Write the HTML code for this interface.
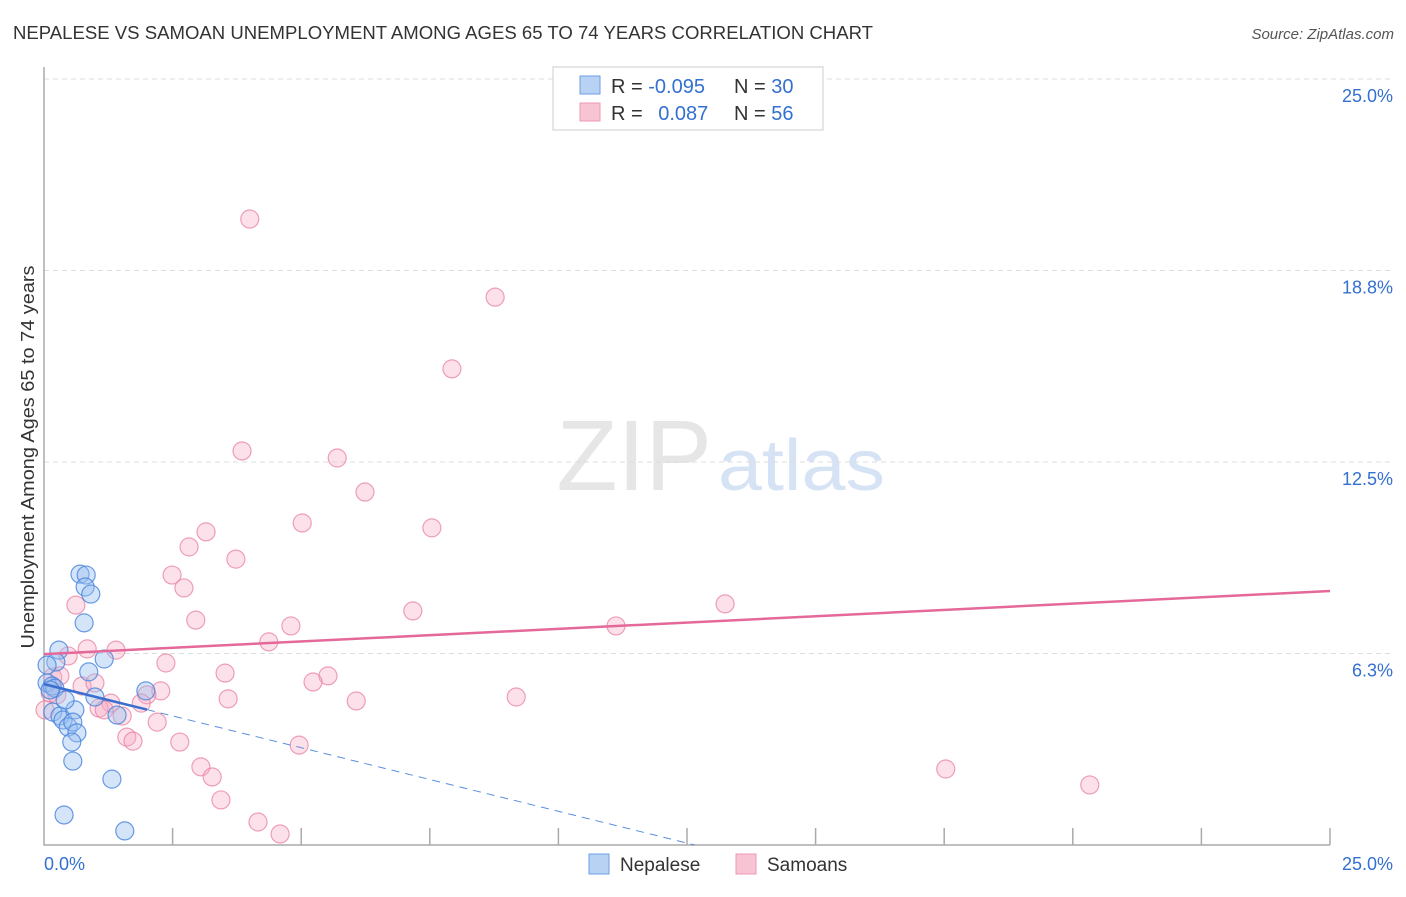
<!DOCTYPE html>
<html><head><meta charset="utf-8"><style>
body{margin:0;background:#fff;font-family:"Liberation Sans",sans-serif;}
svg text{font-family:"Liberation Sans",sans-serif;}
</style></head><body>
<svg id="chart" width="1406" height="892" xmlns="http://www.w3.org/2000/svg">
<text x="13" y="39" font-size="18" fill="#333" textLength="860" lengthAdjust="spacingAndGlyphs">NEPALESE VS SAMOAN UNEMPLOYMENT AMONG AGES 65 TO 74 YEARS CORRELATION CHART</text>
<text x="1394" y="39" font-size="15" fill="#555" text-anchor="end" font-style="italic">Source: ZipAtlas.com</text>
<text x="712" y="490" font-size="100" text-anchor="end" fill="#e6e6e6" font-family="Liberation Serif">ZIP</text>
<text x="718" y="490" font-size="72" fill="#d6e3f5" textLength="167" lengthAdjust="spacingAndGlyphs">atlas</text>
<text transform="translate(34,457) rotate(-90)" font-size="18" fill="#333" text-anchor="middle" textLength="383" lengthAdjust="spacingAndGlyphs">Unemployment Among Ages 65 to 74 years</text>
<g id="grid"></g><g id="axes"></g><g id="marks"></g>
<g>
<rect x="553" y="67" width="270" height="63" fill="#fff" stroke="#ccc"/>
<rect x="580" y="76" width="20" height="18" fill="#b8d2f4" stroke="#6b9ee3"/>
<rect x="580" y="103" width="20" height="18" fill="#f8c4d3" stroke="#eb9ab3"/>
<text x="611" y="93" font-size="20" fill="#333">R = <tspan fill="#3370d0">-0.095</tspan></text>
<text x="734" y="93" font-size="20" fill="#333">N = <tspan fill="#3370d0">30</tspan></text>
<text x="611" y="120" font-size="20" fill="#333">R = <tspan fill="#3370d0" dx="10">0.087</tspan></text>
<text x="734" y="120" font-size="20" fill="#333">N = <tspan fill="#3370d0">56</tspan></text>
</g>
<g>
<rect x="589" y="854" width="20" height="20" fill="#b8d2f4" stroke="#6b9ee3"/>
<text x="620" y="871" font-size="19" fill="#333">Nepalese</text>
<rect x="736" y="854" width="20" height="20" fill="#f8c4d3" stroke="#eb9ab3"/>
<text x="767" y="871" font-size="19" fill="#333">Samoans</text>
</g>
</svg>
<script>
const yTicks=[6.25,12.5,18.75,25];
const yTickLabels=["6.3%","12.5%","18.8%","25.0%"];
const xEndLabels=["0.0%","25.0%"];
const nepX=[0.70,0.82,0.80,0.91,0.78,0.29,0.23,1.17,0.87,0.06,0.16,0.21,0.99,1.98,0.17,0.31,0.37,0.60,0.47,0.56,0.64,0.54,0.56,1.42,1.32,0.39,1.57,0.06,0.41,0.12];
const nepY=[8.84,8.81,8.42,8.19,7.25,6.36,5.97,6.07,5.65,5.29,5.19,5.12,4.83,5.03,4.34,4.21,4.08,4.41,3.85,4.01,3.66,3.36,2.74,4.24,2.15,0.98,0.46,5.87,4.73,5.06];
const samX=[4.00,8.77,7.93,3.85,5.70,6.24,5.02,7.54,3.15,2.82,3.73,2.49,2.72,0.62,7.17,13.24,2.95,4.80,11.12,4.37,1.40,0.84,0.47,2.37,3.52,5.52,5.23,0.74,0.99,0.17,0.31,2.27,2.00,9.18,3.58,6.07,0.12,1.30,1.89,1.07,1.17,1.52,2.20,1.61,1.73,2.64,4.96,3.05,3.27,17.53,20.33,3.44,4.16,4.59,0.25,0.02];
const samY=[20.43,17.88,15.54,12.86,12.63,11.52,10.51,10.35,10.22,9.73,9.33,8.81,8.39,7.83,7.64,7.87,7.34,7.15,7.15,6.63,6.36,6.40,6.17,5.94,5.61,5.52,5.32,5.19,5.29,5.48,5.52,5.03,4.90,4.83,4.77,4.70,4.96,4.63,4.63,4.47,4.41,4.21,4.01,3.52,3.39,3.36,3.26,2.55,2.22,2.48,1.96,1.47,0.75,0.36,4.90,4.41];
const samTrend=[6.23,8.29]; // y at x=0 and x=25
const nepTrend=[5.25,-0.415]; // intercept, slope
const NS="http://www.w3.org/2000/svg";
const X=v=>44+v/25*1286, Y=v=>845-v/25*766;
function mk(t,a,p){const e=document.createElementNS(NS,t);for(const k in a)e.setAttribute(k,a[k]);p.appendChild(e);return e;}
const grid=document.getElementById('grid'),axes=document.getElementById('axes'),marks=document.getElementById('marks');
yTicks.forEach((t,i)=>{
 const l=mk('line',{x1:44,x2:1394,y1:Y(t),y2:Y(t),stroke:'#ddd','stroke-dasharray':'5,4'},grid);
 
 
 const tx=mk('text',{x:1393,y:Y(t)+23,'font-size':18,fill:'#3370d0','text-anchor':'end'},axes);
 tx.textContent=yTickLabels[i];
 
 
});
const ax=mk('path',{d:'M44 67 V845 H1330',fill:'none',stroke:'#aaa','stroke-width':1.5},axes);


for(let i=1;i<=10;i++){const tk=mk('line',{x1:X(i*2.5),x2:X(i*2.5),y1:828,y2:845,stroke:'#aaa','stroke-width':1.5},axes);
 
 }
const xl0=mk('text',{x:44,y:870,'font-size':18,fill:'#3370d0'},axes);xl0.textContent=xEndLabels[0];


const xl1=mk('text',{x:1393,y:870,'font-size':18,fill:'#3370d0','text-anchor':'end'},axes);xl1.textContent=xEndLabels[1];


samX.forEach((x,i)=>{const c=mk('circle',{cx:X(x),cy:Y(samY[i]),r:9,fill:'rgba(245,170,195,0.35)',stroke:'rgba(232,130,162,0.75)','stroke-width':1.2},marks);
 
 });
nepX.forEach((x,i)=>{const c=mk('circle',{cx:X(x),cy:Y(nepY[i]),r:9,fill:'rgba(150,190,240,0.4)',stroke:'rgba(70,130,220,0.8)','stroke-width':1.2},marks);
 
 });
const st=mk('line',{x1:X(0),y1:Y(samTrend[0]),x2:X(25),y2:Y(samTrend[1]),stroke:'#e5689a','stroke-width':2.5},marks);


const nf=x=>nepTrend[0]+nepTrend[1]*x;
const bs=mk('line',{x1:X(0),y1:Y(nf(0)),x2:X(2.0),y2:Y(nf(2.0)),stroke:'#3a6fd0','stroke-width':2.5},marks);


const xe=-nepTrend[0]/nepTrend[1];
const bd=mk('line',{x1:X(2.0),y1:Y(nf(2.0)),x2:X(xe),y2:Y(0),stroke:'#5b8fe0','stroke-width':1,'stroke-dasharray':'8,6'},marks);


</script>
</body></html>
